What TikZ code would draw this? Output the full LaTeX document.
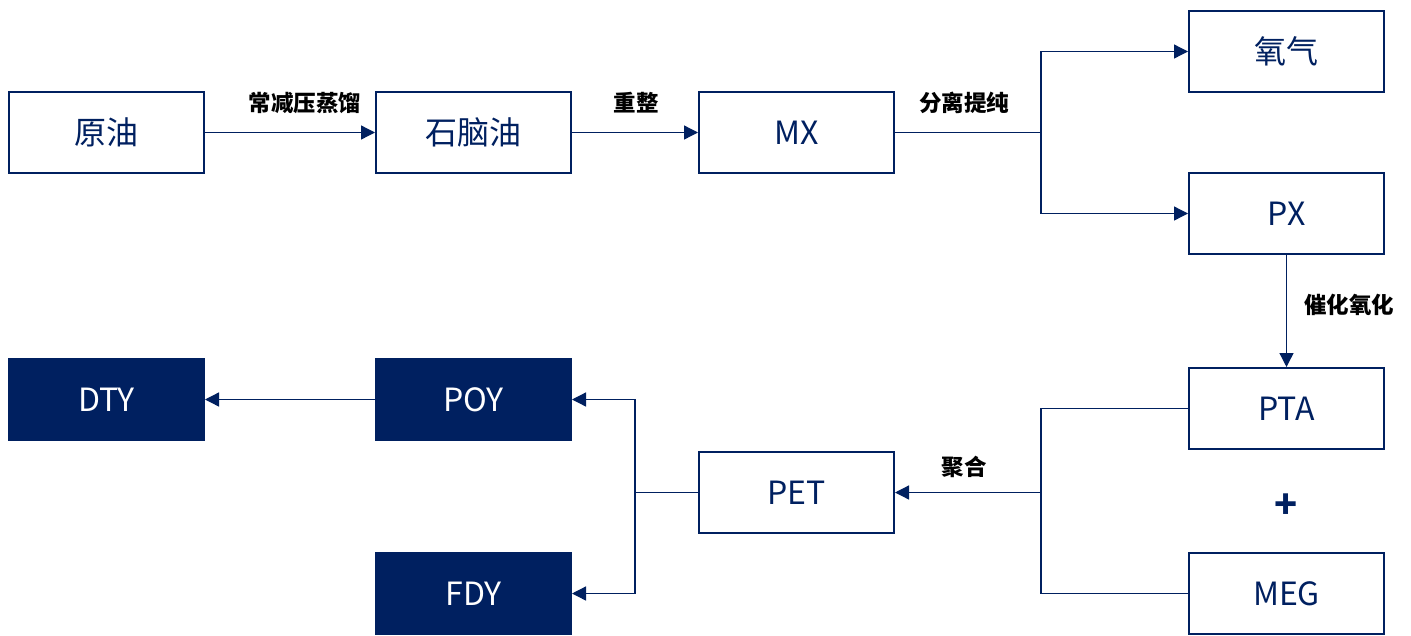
\documentclass[tikz,border=0pt]{standalone}
\usepackage{fontspec}
\setmainfont{Noto Sans CJK SC}
\usetikzlibrary{arrows.meta}
\definecolor{navy}{HTML}{002060}
\begin{document}
\begin{tikzpicture}[x=1pt,y=-1pt,
 box/.style={draw=navy, line width=2pt, minimum width=195pt, minimum height=81pt, inner sep=0pt, font=\fontsize{32}{38}\selectfont, text=navy, anchor=north west},
 dark/.style={box, fill=navy, text=white},
 conn/.style={draw=navy, line width=1.3pt},
 arr/.style={conn, -{Triangle[length=14pt,width=14pt]}},
 lbl/.style={font=\bfseries\fontsize{22.5}{26}\selectfont, text=black, inner sep=0pt}]
\useasboundingbox (0,0) rectangle (1411,635);
\node[box] (yuanyou) at (8,91) {原油};
\node[box] (naphtha) at (375,91) {石脑油};
\node[box] (mx) at (698,91) {MX};
\node[box] (o2) at (1188,10) {氧气};
\node[box] (px) at (1188,172) {PX};
\node[box] (pta) at (1188,367) {PTA};
\node[box] (meg) at (1188,552) {MEG};
\node[box] (pet) at (698,451) {PET};
\node[dark] (poy) at (375,358) {POY};
\node[dark] (fdy) at (375,552) {FDY};
\node[dark] (dty) at (8,358) {DTY};

\coordinate (s1) at (1041,131.5);
\coordinate (j1) at (1041,491.5);
\coordinate (j2) at (635,491.5);

\draw[arr] (yuanyou.east) -- (naphtha.west);
\draw[arr] (naphtha.east) -- (mx.west);
\draw[conn] (mx.east) -- (s1 |- mx.east);
\draw[arr] (s1 |- mx.east) |- (o2.west);
\draw[arr] (s1 |- mx.east) |- (px.west);
\draw[arr] (px.south) -- (pta.north);
\draw[conn] (pta.west) -| (j1) |- (meg.west);
\draw[arr] (j1 |- pet.east) -- (pet.east);
\draw[conn] (pet.west) -- (j2 |- pet.west);
\draw[arr] (j2 |- pet.west) |- (poy.east);
\draw[arr] (j2 |- pet.west) |- (fdy.east);
\draw[arr] (poy.west) -- (dty.east);

\node[lbl] (l1) at (305,103) {常减压蒸馏};
\node[lbl] (l2) at (636,103) {重整};
\node[lbl] (l3) at (964,103) {分离提纯};
\node[lbl] (l4) at (1349,305) {催化氧化};
\node[lbl] (l5) at (964,467) {聚合};
\node[font=\bfseries\fontsize{38}{44}\selectfont, text=navy] (plus) at (1286,506) {+};
\end{tikzpicture}
\end{document}
